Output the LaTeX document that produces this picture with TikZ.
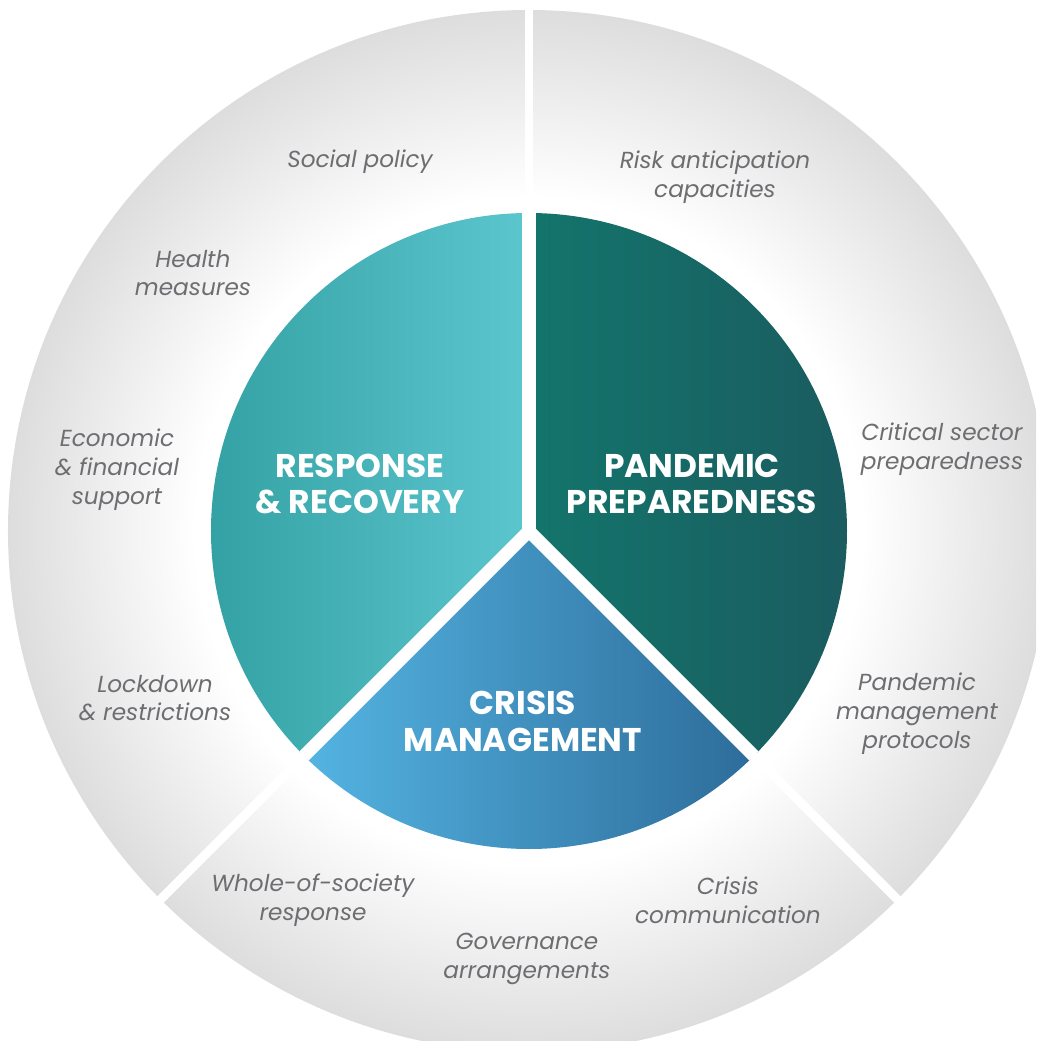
\documentclass[tikz,border=0pt]{standalone}
\usepackage{fontspec}
\setmainfont{Poppins}
\usetikzlibrary{positioning}

\definecolor{ringgrey}{RGB}{221,221,222}
\definecolor{labelgrey}{RGB}{109,110,113}
\definecolor{recoverL}{RGB}{52,162,164}
\definecolor{recoverR}{RGB}{92,198,207}
\definecolor{prepL}{RGB}{19,117,108}
\definecolor{prepR}{RGB}{27,89,94}
\definecolor{crisisL}{RGB}{84,180,226}
\definecolor{crisisR}{RGB}{45,108,154}
% white towards the middle, grey at the rim
\pgfdeclareradialshading{ringfade}{\pgfpoint{0bp}{0bp}}{color(0bp)=(white); color(16bp)=(white); color(25bp)=(ringgrey); color(50bp)=(ringgrey)}

\tikzset{
  topic/.style={text=white, font=\bfseries\fontsize{18.7}{21}\selectfont, align=center},
  facet/.style={text=labelgrey, font=\itshape\fontsize{13.2}{16.4}\selectfont, align=center},
  gap/.style={white, line width=7.4pt},
  thingap/.style={white, line width=5.1pt}
}

\begin{document}
\begin{tikzpicture}[x=0.02cm, y=0.02cm]
    \useasboundingbox (-529,-510) rectangle (507,531);
    \clip (-529,-510) rectangle (507,531);
    \coordinate (O) at (0,0);
    % outer ring
    \shade[shading=ringfade] (O) circle (521);
    % the three pillars
    \shade[left color=recoverL, right color=recoverR] (O) -- (90:318) arc (90:225:318) -- cycle;
    \shade[left color=prepL, right color=prepR] (O) -- (-45:318) arc (-45:90:318) -- cycle;
    \shade[left color=crisisL, right color=crisisR] (O) -- (225:318) arc (225:315:318) -- cycle;
    % white cuts between the sectors
    \foreach \a in {90,225,315} {
        \coordinate (rim\a) at (\a:540);
        \coordinate (edge\a) at (\a:318);
        \draw[thingap] (O) -- (rim\a);
        \draw[gap] (O) -- (edge\a);
    }
    \node[topic] (response) at (-169,47) {RESPONSE\\\& RECOVERY};
    \node[topic] (pandemic) at (163,47) {PANDEMIC\\PREPAREDNESS};
    \node[topic] (crisis) at (-6,-190) {CRISIS\\MANAGEMENT};
    % ring labels, anticlockwise from the top
    \node[facet] (social) at (-169,369) {Social policy};
    \node[facet] (health) at (-336,258) {Health\\measures};
    \node[facet] (economic) at (-412,61) {Economic\\\& financial\\support};
    \node[facet] (lockdown) at (-374,-167) {Lockdown\\\& restrictions};
    \node[facet] (society) at (-216,-369) {Whole-of-society\\response};
    \node[facet] (governance) at (-2,-428) {Governance\\arrangements};
    \node[facet] (communication) at (199,-369) {Crisis\\communication};
    \node[facet] (protocols) at (388,-183) {Pandemic\\management\\protocols};
    \node[facet] (critical) at (413,82) {Critical sector\\preparedness};
    \node[facet] (risk) at (186,354) {Risk anticipation\\capacities};
\end{tikzpicture}
\end{document}
